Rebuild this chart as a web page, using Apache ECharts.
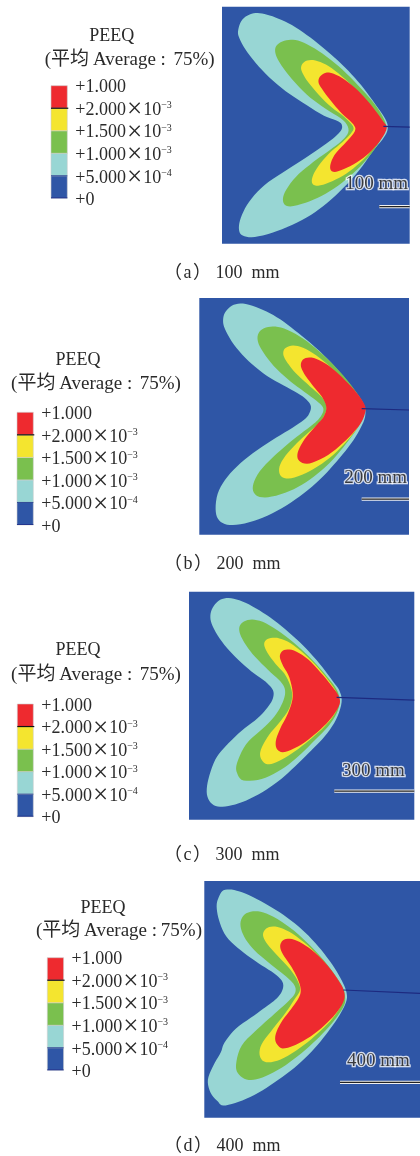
<!DOCTYPE html>
<html><head><meta charset="utf-8">
<style>html,body{margin:0;padding:0;background:#fff}#c{width:420px;height:1156px}</style>
<script src="https://cdn.jsdelivr.net/npm/echarts@6/dist/echarts.min.js"></script>
</head><body><div id="c"></div>
<script>
// Contour outlines (image units, one list per PEEQ band)
const aCyan=[[713,91],[725,56],[755,39],[785,39],[825,51],[875,73],[930,111],[985,156],[1035,201],[1085,256],[1125,311],[1160,361],[1165,385],[1155,410],[1120,450],[1080,510],[1030,565],[970,620],[910,660],[830,695],[760,714],[725,708],[715,690],[720,655],[745,605],[790,555],[860,510],[930,465],[995,420],[1022,395],[1028,378],[1020,364],[975,351],[905,306],[845,266],[785,211],[740,156],[715,111]];
const aGreen=[[823,146],[835,129],[865,118],[900,121],[955,151],[1015,196],[1075,256],[1125,311],[1155,361],[1160,385],[1140,425],[1100,480],[1050,530],[990,575],[930,605],[865,623],[848,610],[850,580],[885,530],[940,485],[990,450],[1030,420],[1050,392],[1035,361],[975,326],[920,286],[865,226],[830,176]];
const aYellow=[[900,201],[915,181],[945,179],[985,196],[1035,236],[1085,286],[1145,361],[1155,395],[1130,435],[1090,480],[1040,522],[985,550],[945,560],[932,545],[945,510],[985,460],[1030,425],[1058,395],[1063,381],[1035,351],[985,316],[935,261],[910,226]];
const aRed=[[953,246],[960,226],[985,214],[1025,231],[1075,271],[1115,316],[1150,366],[1165,381],[1140,425],[1100,468],[1050,500],[1000,520],[987,505],[1000,465],[1040,425],[1068,392],[1065,376],[1025,341],[995,306],[965,266]];
const bCyan=[[668,89],[675,64],[700,42],[735,39],[790,59],[840,86],[895,129],[950,174],[1005,229],[1055,289],[1095,344],[1098,375],[1085,410],[1055,460],[1010,515],[960,570],[900,620],[830,665],[760,695],[695,708],[660,698],[645,670],[650,610],[680,560],[730,510],[800,460],[870,418],[915,389],[930,369],[935,344],[910,319],[865,294],[800,259],[745,214],[700,164],[672,114]];
const bGreen=[[770,144],[780,119],[810,108],[850,112],[910,144],[970,194],[1030,254],[1090,334],[1095,365],[1080,405],[1040,460],[990,520],[930,570],[870,605],[800,625],[765,618],[755,590],[775,545],[830,490],[890,440],[945,399],[960,384],[973,359],[965,344],[925,314],[870,274],[820,229],[780,174]];
const bYellow=[[848,189],[855,172],[885,164],[925,179],[980,219],[1040,279],[1090,339],[1095,365],[1080,405],[1040,455],[990,505],[930,545],[870,568],[840,562],[835,530],[860,490],[910,440],[960,399],[975,374],[982,349],[970,324],[930,289],[885,249],[855,209]];
const bRed=[[900,224],[910,204],[940,201],[985,224],[1035,269],[1080,319],[1097,349],[1097,365],[1085,400],[1040,450],[985,497],[925,525],[895,515],[890,490],[910,450],[955,399],[970,384],[982,354],[970,324],[940,289],[910,249]];
const cCyan=[[629,106],[640,76],[665,54],[700,54],[745,71],[800,104],[855,146],[910,196],[960,251],[1000,306],[1020,331],[1028,365],[1010,420],[975,470],[935,510],[885,560],[835,605],[775,645],[715,672],[665,682],[635,675],[618,645],[623,600],[645,535],[675,500],[725,450],[775,415],[805,380],[820,356],[822,331],[800,306],[755,276],[705,231],[665,186],[635,136]];
const cGreen=[[715,146],[725,126],[755,116],[795,126],[855,166],[915,216],[975,281],[1018,336],[1020,380],[995,430],[945,480],[895,530],[845,570],[785,600],[725,605],[710,580],[707,555],[735,490],[790,445],[825,410],[850,366],[858,331],[845,306],[805,271],[755,221],[725,176]];
const cYellow=[[790,191],[800,176],[830,171],[870,186],[925,231],[975,286],[1015,341],[1015,385],[985,430],[935,475],[885,515],[835,545],[800,557],[780,535],[780,510],[805,465],[845,420],[870,385],[880,340],[860,286],[825,251],[800,216]];
const cRed=[[837,226],[850,208],[880,208],[925,236],[970,286],[1010,336],[1020,356],[1020,375],[995,415],[955,455],[905,495],[850,520],[830,510],[825,485],[840,445],[865,400],[882,350],[870,291],[845,251]];
const dCyan=[[648,118],[656,93],[668,70],[701,70],[746,86],[806,118],[861,153],[916,198],[966,253],[1006,308],[1031,353],[1042,385],[1040,407],[1020,447],[985,497],[945,547],[895,597],[835,642],[775,682],[715,709],[665,722],[655,707],[630,682],[620,642],[640,597],[665,557],[670,532],[705,487],[765,447],[805,417],[831,398],[849,373],[851,348],[826,323],[776,293],[721,253],[676,213],[656,163]];
const dGreen=[[718,173],[731,143],[766,133],[806,143],[871,183],[931,238],[981,293],[1031,363],[1036,395],[1035,417],[1005,462],[960,512],[905,562],[845,607],[785,637],[745,645],[715,627],[705,602],[720,537],[775,487],[825,442],[870,402],[888,380],[886,358],[861,333],[816,298],[761,253],[731,213]];
const dYellow=[[786,203],[801,183],[831,180],[876,200],[936,248],[986,303],[1031,368],[1030,395],[1025,417],[1000,457],[955,502],[900,547],[840,584],[795,592],[777,572],[780,537],[820,487],[860,437],[885,397],[903,373],[896,348],[871,308],[826,263],[796,228]];
const dRed=[[838,238],[851,218],[881,218],[926,243],[976,288],[1016,343],[1033,373],[1035,402],[1010,442],[965,487],[910,527],[850,552],[830,537],[823,512],[840,472],[875,427],[898,395],[904,373],[896,343],[876,303],[846,263]];

const legendTicks=['+0','+5.000{x|×}10{s|−4}','+1.000{x|×}10{s|−3}','+1.500{x|×}10{s|−3}','+2.000{x|×}10{s|−3}','+1.000'];
const legendEdges=[0,1,2,3,4,5];
const bandColors=['#2F56A6','#98D6D4','#7AC04E','#F4E52F','#EE2A2F'];
const edgeColors=['#1E2F8A','#1E3A8F',null,null,'#111111',null];
const captions=['（\u200aa\u200a） 100\u2002mm','（\u200ab\u200a） 200\u2002mm','（\u200ac\u200a） 300\u2002mm','（\u200ad\u200a） 400\u2002mm'];
const scaleLabels=['100 mm','200 mm','300 mm','400 mm'];
const panelTitle='PEEQ';
const panelSubs=['(平均\u2009Average :\u2009\u200975%)','(平均\u2009Average :\u2009\u200975%)','(平均\u2009Average :\u2009\u200975%)','(平均\u2009Average :\u200975%)'];

const panels=[
 {bands:[aCyan,aGreen,aYellow,aRed],xr:[666,1229],yr:[20,731],rect:[222,6.7,187.7,237],crack:[[1150,379],[1229,381]],bar:[[1138,620],[1229,620]],lab:[1130,552],leg:[51,85.7,16.3,112.6],t:[[111.7,36],[129.7,60]],cap:273},
 {bands:[bCyan,bGreen,bYellow,bRed],xr:[598,1227],yr:[24,734],rect:[199.3,298,209.7,236.7],crack:[[1085,356],[1227,360]],bar:[[1085,627],[1227,627]],lab:[1127,563],leg:[17,412.3,16.3,112.7],t:[[78,360],[96,384]],cap:564},
 {bands:[cCyan,cGreen,cYellow,cRed],xr:[567,1243],yr:[35,719],rect:[189,591.7,225.3,228],crack:[[1010,352],[1243,360]],bar:[[1003,633],[1243,633]],lab:[1120,572],leg:[17.3,704,16,112.7],t:[[78,650.7],[96,674.7]],cap:855},
 {bands:[dCyan,dGreen,dYellow,dRed],xr:[613,1260],yr:[45,755],rect:[204.3,881,215.7,236.7],crack:[[1030,372],[1260,382]],bar:[[1020,649],[1260,649]],lab:[1135,585],leg:[47.3,957.7,16.3,112.6],t:[[103,908.7],[119,931]],cap:1146}
];
const FONT='"Liberation Serif","Noto Sans CJK SC",serif';
// light relaxation plus a closed Catmull-Rom through the read points, in pixel space at render time
function closedCurve(P0){
  const m=P0.length;
  const P=P0.map((p,i)=>{const a=P0[(i-1+m)%m],c=P0[(i+1)%m];return [p[0]+0.25*((a[0]+c[0])/2-p[0]),p[1]+0.25*((a[1]+c[1])/2-p[1])];});
  const out=[],n=P.length;
  for(let i=0;i<n;i++){
    const a=P[(i-1+n)%n],b=P[i],c=P[(i+1)%n],d=P[(i+2)%n];
    for(let t=0;t<1;t+=0.2){
      const t2=t*t,t3=t2*t;
      out.push([0,1].map(j=>0.5*(2*b[j]+(c[j]-a[j])*t+(2*a[j]-5*b[j]+4*c[j]-d[j])*t2+(3*b[j]-a[j]-3*c[j]+d[j])*t3)));
    }
  }
  return out;
}
const grid=[],xAxis=[],yAxis=[],series=[],graphic=[];
panels.forEach((p,i)=>{
  const g=i*2, l=i*2+1;
  grid.push({left:p.rect[0],top:p.rect[1],width:p.rect[2],height:p.rect[3],show:true,backgroundColor:'#2F56A6',borderWidth:0});
  xAxis.push({gridIndex:g,type:'value',min:p.xr[0],max:p.xr[1],show:false});
  yAxis.push({gridIndex:g,type:'value',min:p.yr[0],max:p.yr[1],inverse:true,show:false});
  grid.push({left:p.leg[0],top:p.leg[1],width:p.leg[2],height:p.leg[3],show:false});
  xAxis.push({gridIndex:l,type:'value',min:0,max:1,show:false});
  yAxis.push({gridIndex:l,type:'value',min:0,max:5,interval:1,position:'right',
    axisLine:{show:false},axisTick:{show:false},splitLine:{show:false},
    axisLabel:{show:true,margin:8,padding:[4,0,0,0],color:'#2a2a2a',fontFamily:FONT,fontSize:18,
      formatter:v=>legendTicks[v],
      rich:{x:{fontFamily:FONT,fontSize:27,lineHeight:18,color:'#2a2a2a',padding:[0,1,0,1]},s:{fontFamily:FONT,fontSize:10,color:'#2a2a2a',padding:[0,0,9,0]}}}});
  const fills=['#98D6D4','#7AC04E','#F4E52F','#EE2A2F'];
  p.bands.forEach((pts,k)=>{
    series.push({type:'custom',xAxisIndex:g,yAxisIndex:g,silent:true,data:pts,z:2+k,
      renderItem:(params,api)=>{
        if(params.dataIndex!==0) return;
        return {type:'polygon',shape:{points:closedCurve(pts.map(q=>api.coord(q)))},style:{fill:fills[k]}};
      }});
  });
  series.push({type:'line',xAxisIndex:g,yAxisIndex:g,data:p.crack,showSymbol:false,silent:true,z:8,lineStyle:{color:'#1D2A80',width:1.2}});
  series.push({type:'line',xAxisIndex:g,yAxisIndex:g,data:p.bar,showSymbol:false,silent:true,z:8,lineStyle:{color:'#F0F0F0',width:3.2}});
  series.push({type:'line',xAxisIndex:g,yAxisIndex:g,data:p.bar,showSymbol:false,silent:true,z:9,lineStyle:{color:'#222',width:1.2}});
  series.push({type:'scatter',xAxisIndex:g,yAxisIndex:g,data:[p.lab],symbolSize:0,silent:true,z:10,
    label:{show:true,position:'inside',formatter:scaleLabels[i],fontFamily:FONT,fontSize:19,color:'#111',textBorderColor:'#fff',textBorderWidth:2.5}});
  series.push({type:'custom',xAxisIndex:l,yAxisIndex:l,silent:true,data:bandColors.map((c,k)=>[legendEdges[k],legendEdges[k+1]]),z:3,
    renderItem:(params,api)=>{
      const k=params.dataIndex;
      const a=api.coord([0,legendEdges[k+1]]), b=api.coord([1,legendEdges[k]]);
      return {type:'rect',shape:{x:a[0],y:a[1],width:b[0]-a[0],height:b[1]-a[1]},style:{fill:bandColors[k],stroke:'#cfcfcf',lineWidth:0.6}};
    }});
  series.push({type:'custom',xAxisIndex:l,yAxisIndex:l,silent:true,data:legendEdges.map(v=>[v]),z:4,
    renderItem:(params,api)=>{
      const k=params.dataIndex; const col=edgeColors[k];
      if(!col) return;
      const a=api.coord([0,legendEdges[k]]), b=api.coord([1,legendEdges[k]]);
      return {type:'line',shape:{x1:a[0],y1:a[1]+(k===0?-0.5:0),x2:b[0]+(k===4?1:0),y2:b[1]+(k===0?-0.5:0)},style:{stroke:col,lineWidth:k===4?1.2:0.9}};
    }});
  const txt=(s,x,y,size,al)=>graphic.push({type:'text',x:x,y:y,silent:true,style:{text:s,font:size+'px '+FONT,fill:'#2a2a2a',textAlign:al,textVerticalAlign:'middle'}});
  txt(panelTitle,p.t[0][0],p.t[0][1],18,'center');
  txt(panelSubs[i],p.t[1][0],p.t[1][1],19,'center');
  txt(captions[i],164,p.cap,18,'left');
});
const chart=echarts.init(document.getElementById('c'),null,{renderer:'canvas',width:420,height:1156});
chart.setOption({animation:false,backgroundColor:'#fff',grid,xAxis,yAxis,series,graphic});
</script></body></html>
